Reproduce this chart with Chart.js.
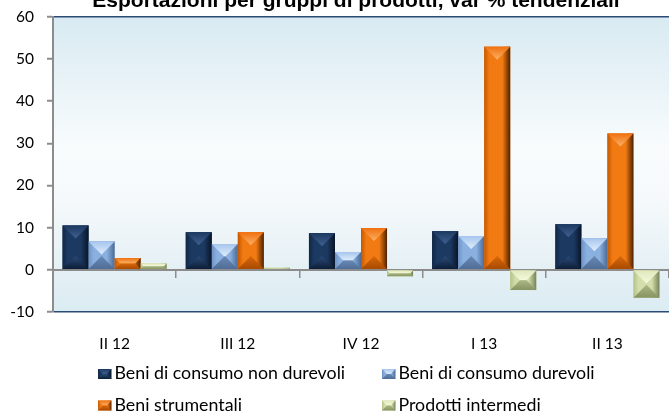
<!DOCTYPE html>
<html><head><meta charset="utf-8">
<script src="https://cdn.jsdelivr.net/npm/chart.js@4/dist/chart.umd.min.js"></script>
<style>html,body{margin:0;padding:0;background:#fff;}#wrap{width:669px;height:414px;position:relative;overflow:hidden;}</style>
</head><body><div id="wrap"><canvas id="c" width="669" height="414"></canvas></div>
<script>
const chartTitle = 'Esportazioni per gruppi di prodotti, var % tendenziali';
const categories = ['II 12', 'III 12', 'IV 12', 'I 13', 'II 13'];
const seriesLabels = ['Beni di consumo non durevoli', 'Beni di consumo durevoli', 'Beni strumentali', 'Prodotti intermedi'];
const beniConsumoNonDurevoli = [10.5, 8.9, 8.7, 9.2, 10.8];
const beniConsumoDurevoli = [6.7, 6.1, 4.2, 8.0, 7.5];
const beniStrumentali = [2.8, 8.9, 9.9, 52.9, 32.3];
const prodottiIntermedi = [1.5, 0.5, -1.5, -4.8, -6.6];
const yMin = -10, yMax = 60, yStep = 10;

const palettes = [
  {base:'#1c3961', side:'#102746', edge:'#081528', topEdge:'#1c3961', topLight:'#3f6090', botEdge:'#0c1d36', botLight:'#2b4a78'},
  {base:'#8ab0e0', side:'#6f93c4', edge:'#4c6a94', topEdge:'#a6c5ee', topLight:'#e0eefd', botEdge:'#4f6d96', botLight:'#6888b4'},
  {base:'#f27a12', side:'#c45800', edge:'#4e2200', topEdge:'#f07010', topLight:'#fbb266', botEdge:'#a84a02', botLight:'#d8680a'},
  {base:'#d3dfab', side:'#b3c189', edge:'#75835a', topEdge:'#dfe8bd', topLight:'#f6f9dc', botEdge:'#879463', botLight:'#aab883'}
];

function drawBevel(ctx, left, top, right, bottom, pal) {
  const w = right - left, h = bottom - top;
  if (w <= 0 || h <= 0) return;
  ctx.save();
  let g = ctx.createLinearGradient(left, 0, right, 0);
  g.addColorStop(0, pal.side); g.addColorStop(0.2, pal.base);
  g.addColorStop(0.7, pal.base); g.addColorStop(1, pal.edge);
  ctx.fillStyle = g; ctx.fillRect(left, top, w, h);
  const b = Math.min(w / 2, h / 2);
  ctx.beginPath();
  ctx.moveTo(left, top); ctx.lineTo(right, top); ctx.lineTo(right - b, top + b); ctx.lineTo(left + b, top + b); ctx.closePath();
  g = ctx.createLinearGradient(0, top, 0, top + b);
  g.addColorStop(0, pal.topEdge); g.addColorStop(1, pal.topLight);
  ctx.fillStyle = g; ctx.fill();
  ctx.beginPath();
  ctx.moveTo(left, bottom); ctx.lineTo(right, bottom); ctx.lineTo(right - b, bottom - b); ctx.lineTo(left + b, bottom - b); ctx.closePath();
  g = ctx.createLinearGradient(0, bottom, 0, bottom - b);
  g.addColorStop(0, pal.botEdge); g.addColorStop(1, pal.botLight);
  ctx.fillStyle = g; ctx.fill();
  ctx.restore();
}

const bgPlugin = {
  id: 'bg',
  beforeDraw(chart) {
    const {ctx, chartArea: a} = chart;
    ctx.save();
    ctx.fillStyle = '#ffffff'; ctx.fillRect(0, 0, chart.width, chart.height);
    const g = ctx.createLinearGradient(0, a.top, 0, a.bottom);
    g.addColorStop(0, '#d8eaf2'); g.addColorStop(0.45, '#f9fcfd'); g.addColorStop(0.62, '#f5f9fb');
    g.addColorStop(0.85, '#e5f0f5'); g.addColorStop(1, '#dbecf3');
    ctx.fillStyle = g; ctx.fillRect(a.left, a.top, a.right - a.left, a.bottom - a.top);
    ctx.restore();
  }
};

const bevelPlugin = {
  id: 'bevel',
  afterDatasetsDraw(chart) {
    const ctx = chart.ctx;
    chart.data.datasets.forEach((ds, i) => {
      const meta = chart.getDatasetMeta(i);
      meta.data.forEach(el => {
        const p = el.getProps(['x', 'y', 'base', 'width'], true);
        const left = p.x - p.width / 2, right = p.x + p.width / 2;
        const top = Math.min(p.y, p.base), bottom = Math.max(p.y, p.base);
        drawBevel(ctx, left, top, right, bottom, palettes[i]);
      });
    });
  }
};

const titlePlugin = {
  id: 'customTitle',
  afterDraw(chart) {
    const ctx = chart.ctx;
    ctx.save();
    ctx.font = 'bold 21px "Liberation Sans", Arial, sans-serif';
    ctx.fillStyle = '#000'; ctx.textAlign = 'center'; ctx.textBaseline = 'alphabetic';
    ctx.fillText(chartTitle, 356, 7);
    ctx.restore();
  }
};

const legendPlugin = {
  id: 'customLegend',
  afterDraw(chart) {
    const ctx = chart.ctx;
    const colX = [98, 382], rowBase = [379, 410.5];
    ctx.save();
    ctx.font = '17.8px Lato, sans-serif';
    ctx.textAlign = 'left'; ctx.textBaseline = 'alphabetic';
    chart.data.datasets.forEach((ds, i) => {
      const x = colX[i % 2], yb = rowBase[Math.floor(i / 2)];
      drawBevel(ctx, x, yb - 10, x + 13.5, yb, palettes[i]);
      ctx.fillStyle = '#000';
      ctx.fillText(ds.label, x + 16.5, yb);
    });
    ctx.restore();
  }
};

function make() {
  new Chart(document.getElementById('c'), {
    type: 'bar',
    data: {
      labels: categories,
      datasets: [
        {label: seriesLabels[0], data: beniConsumoNonDurevoli, backgroundColor: palettes[0].base},
        {label: seriesLabels[1], data: beniConsumoDurevoli, backgroundColor: palettes[1].base},
        {label: seriesLabels[2], data: beniStrumentali, backgroundColor: palettes[2].base},
        {label: seriesLabels[3], data: prodottiIntermedi, backgroundColor: palettes[3].base}
      ]
    },
    options: {
      responsive: false, animation: false, devicePixelRatio: 1,
      layout: {padding: {top: 7, right: -3, left: 0, bottom: 0}},
      datasets: {bar: {categoryPercentage: 0.845, barPercentage: 1.0}},
      plugins: {legend: {display: false}, title: {display: false}, tooltip: {enabled: false}},
      scales: {
        x: {
          position: 'bottom', offset: true,
          grid: {display: false, drawTicks: false}, border: {display: false},
          ticks: {font: {family: 'Lato', size: 15.5}, color: '#000', padding: 23, maxRotation: 0, autoSkip: false},
          afterFit(s) { s.height = 102; }
        },
        xz: {
          type: 'category', labels: categories, position: {y: 0}, offset: true, z: 1,
          grid: {drawOnChartArea: false, offset: true, tickLength: 7, color: '#8c8c8c', lineWidth: 1.5},
          border: {color: '#8c8c8c', width: 2},
          ticks: {display: false}
        },
        y: {
          min: yMin, max: yMax,
          ticks: {stepSize: yStep, font: {family: 'Lato', size: 15.5, lineHeight: 0.48}, color: '#000', padding: 13},
          grid: {
            color: c => (c.tick && (c.tick.value === yMax || c.tick.value === yMin)) ? '#2b4b74' : 'rgba(0,0,0,0)',
            tickColor: '#8c8c8c', tickLength: 6, lineWidth: 1.5, tickWidth: 2
          },
          border: {color: '#8c8c8c', width: 2},
          afterFit(s) { s.width = 53; }
        }
      }
    },
    plugins: [bgPlugin, bevelPlugin, titlePlugin, legendPlugin]
  });
}
if (document.fonts && document.fonts.load) {
  Promise.all([document.fonts.load('15px Lato'), document.fonts.load('bold 21px "Liberation Sans"')]).then(make, make);
} else { make(); }
</script></body></html>
